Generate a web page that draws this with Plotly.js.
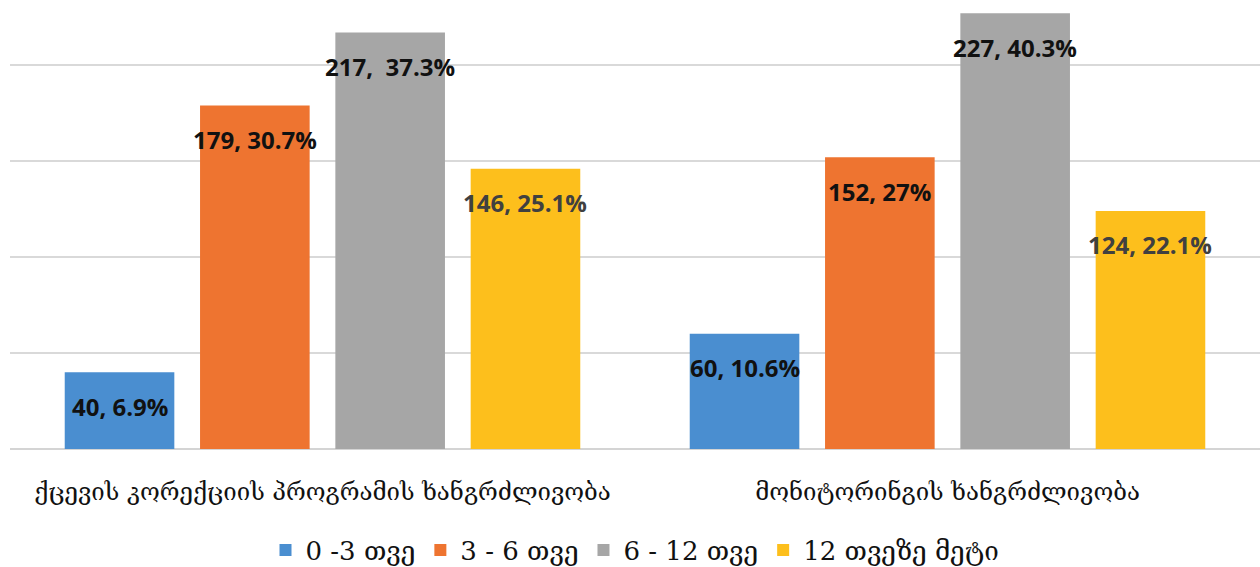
<!DOCTYPE html>
<html>
<head>
<meta charset="utf-8">
<script src="https://cdn.plot.ly/plotly-3.0.1.min.js"></script>
<style>html,body{margin:0;padding:0;background:#fff;}#chart{width:1260px;height:567px;}</style>
</head>
<body>
<div id="chart"></div>
<script>
var categories = ["ქცევის კორექციის პროგრამის ხანგრძლივობა", "მონიტორინგის ხანგრძლივობა"];
var seriesNames = ["0 -3 თვე", "3 - 6 თვე", "6 - 12 თვე", "12 თვეზე მეტი"];
var counts0to3 = [40, 60];
var counts3to6 = [179, 152];
var counts6to12 = [217, 227];
var countsOver12 = [146, 124];
var pct0to3 = ["6.9%", "10.6%"];
var pct3to6 = ["30.7%", "27%"];
var pct6to12 = ["37.3%", "40.3%"];
var pctOver12 = ["25.1%", "22.1%"];

var colors = ["#4a8ed0", "#ee7430", "#a6a6a6", "#fdbf1c"];
var labelColors = ["#111111", "#111111", "#111111", "#404040"];
var allCounts = [counts0to3, counts3to6, counts6to12, countsOver12];
var allPct = [pct0to3, pct3to6, pct6to12, pctOver12];

var traces = allCounts.map(function (vals, i) {
  return {
    type: "bar",
    name: seriesNames[i],
    x: categories,
    y: vals,
    marker: { color: colors[i] },
    hoverinfo: "skip"
  };
});

var annotations = [];
allCounts.forEach(function (vals, i) {
  vals.forEach(function (v, j) {
    var sep = (i === 2 && j === 0) ? ",\u00a0 " : ", ";
    annotations.push({
      x: categories[j], y: v, xref: "x", yref: "y",
      text: "<b>" + v + sep + allPct[i][j] + "</b>",
      showarrow: false,
      xshift: (i - 1.5) * 135.3,
      yshift: -34,
      font: { family: "Open Sans, sans-serif", size: 24, color: labelColors[i] }
    });
  });
});

var layout = {
  width: 1260, height: 567,
  margin: { l: 10, r: 0, t: 0, b: 118, autoexpand: false },
  paper_bgcolor: "#ffffff", plot_bgcolor: "#ffffff",
  barmode: "group",
  bargap: 0.134,
  bargroupgap: 0.19,
  xaxis: {
    type: "category",
    automargin: false,
    showgrid: false, showline: false, zeroline: false,
    ticks: "",
    ticklabelstandoff: 26,
    tickfont: { family: "DejaVu Serif, DejaVu Sans, serif", size: 24, color: "#111111" }
  },
  yaxis: {
    range: [0, 233.9],
    dtick: 50,
    automargin: false,
    showticklabels: false,
    showgrid: true, gridcolor: "#d9d9d9", gridwidth: 1.5,
    zeroline: true, zerolinecolor: "#d4d4d4", zerolinewidth: 2,
    showline: false
  },
  showlegend: true,
  legend: {
    orientation: "h",
    x: 0.5, xanchor: "center",
    y: -0.225, yanchor: "middle",
    font: { family: "DejaVu Serif, DejaVu Sans, serif", size: 26, color: "#111111" },
    itemwidth: 30,
    traceorder: "normal"
  },
  annotations: annotations
};

Plotly.newPlot("chart", traces, layout, { displayModeBar: false, staticPlot: true });
</script>
</body>
</html>
